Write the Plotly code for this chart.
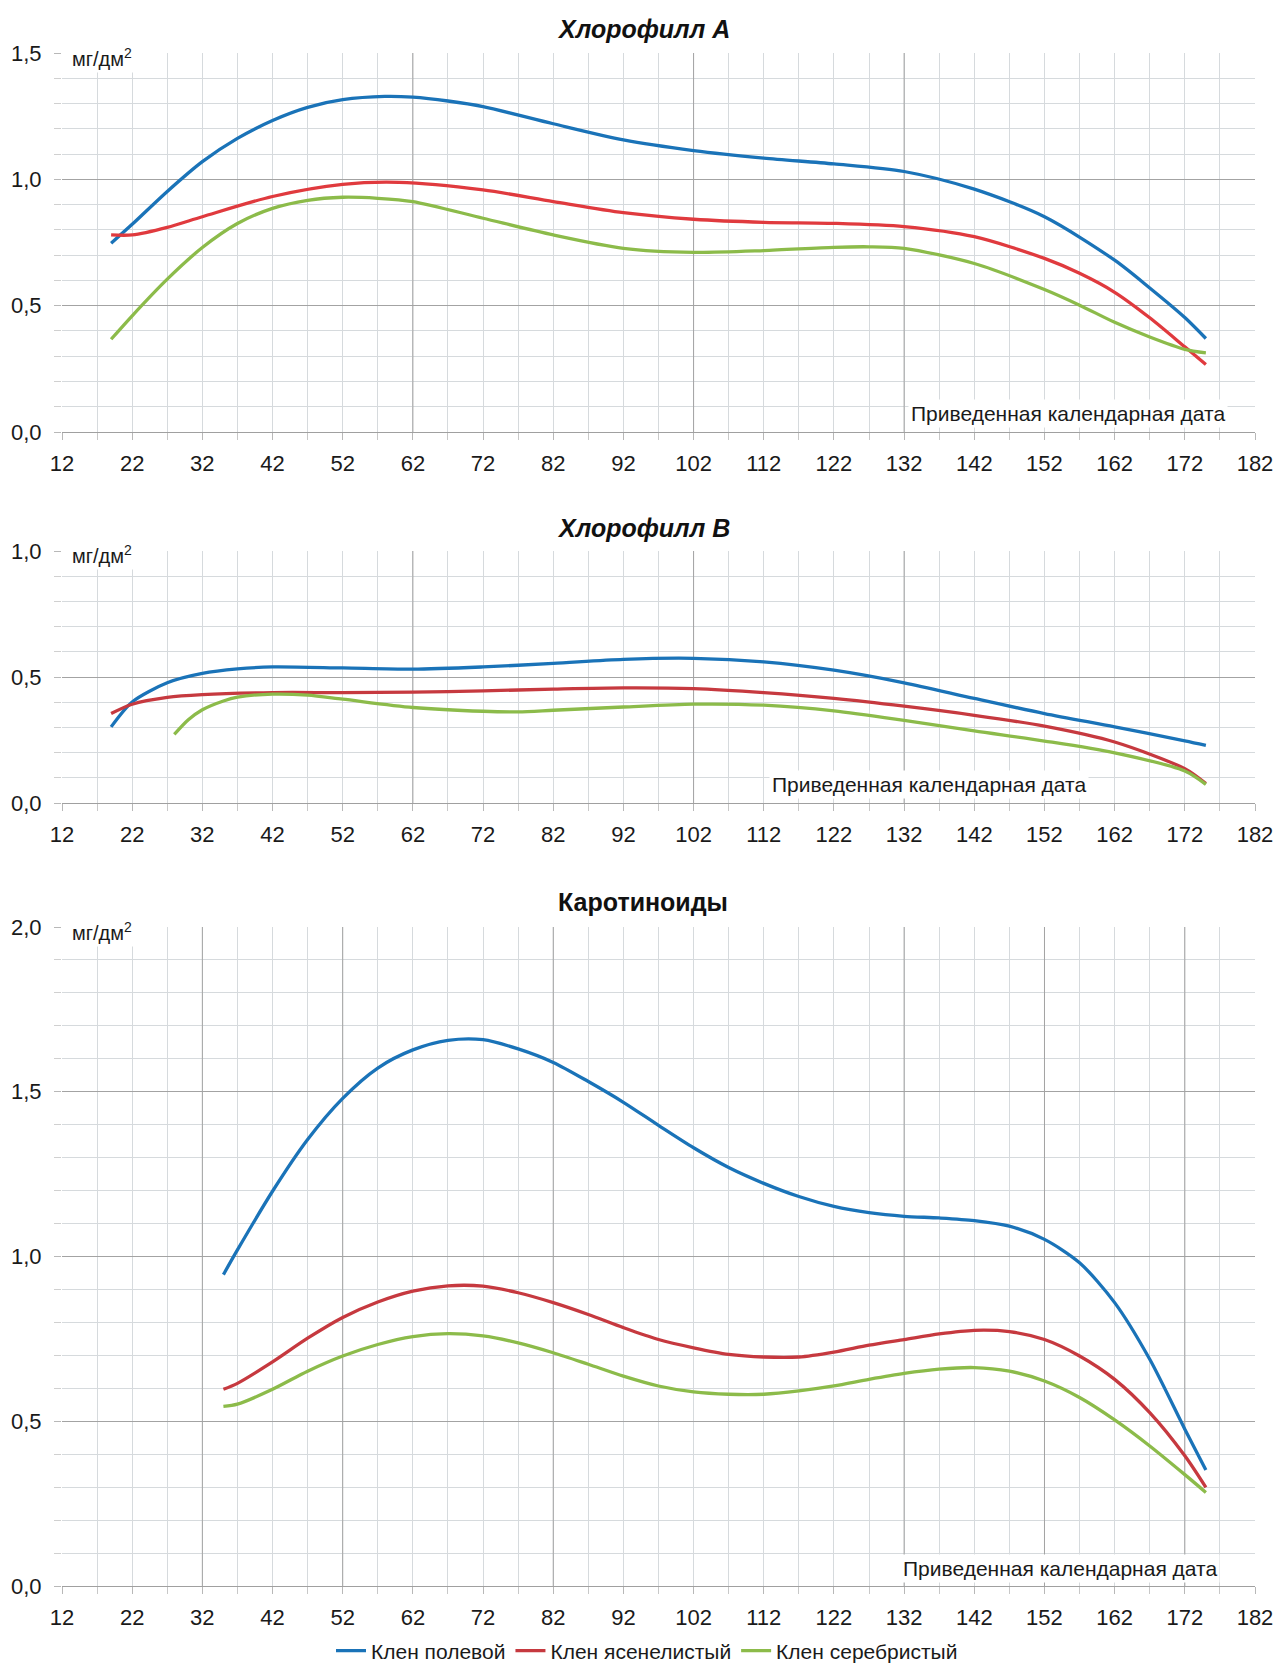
import plotly.graph_objects as go

# ---------------- DATA ----------------
series_names = ["Клен полевой", "Клен ясенелистый", "Клен серебристый"]
x_ticks = [12, 22, 32, 42, 52, 62, 72, 82, 92, 102, 112, 122, 132, 142, 152, 162, 172, 182]

# Хлорофилл А
a_pol_x = [19, 22, 27, 32, 37, 42, 47, 52, 58, 62, 67, 72, 82, 92, 102, 112, 122, 132, 142, 152, 162, 167, 172, 175]
a_pol_y = [0.747, 0.822, 0.952, 1.07, 1.162, 1.233, 1.285, 1.315, 1.328, 1.325, 1.31, 1.288, 1.22, 1.156,
           1.114, 1.084, 1.061, 1.031, 0.961, 0.852, 0.68, 0.57, 0.453, 0.37]
a_yas_x = [19, 22, 27, 32, 42, 52, 60, 72, 82, 92, 102, 112, 122, 132, 142, 152, 157, 162, 167, 172, 175]
a_yas_y = [0.78, 0.78, 0.81, 0.852, 0.932, 0.98, 0.988, 0.958, 0.912, 0.868, 0.842, 0.83, 0.826, 0.813,
           0.773, 0.687, 0.628, 0.553, 0.452, 0.337, 0.267]
a_ser_x = [19, 22, 27, 32, 37, 42, 47, 52, 57, 62, 72, 82, 92, 102, 112, 122, 127, 132, 142, 152, 157, 162,
           167, 172, 175]
a_ser_y = [0.367, 0.46, 0.605, 0.73, 0.825, 0.885, 0.917, 0.929, 0.925, 0.912, 0.846, 0.78, 0.727, 0.711,
           0.718, 0.731, 0.733, 0.727, 0.667, 0.564, 0.502, 0.434, 0.376, 0.327, 0.313]

# Хлорофилл В
b_pol_x = [19, 22, 27, 32, 37, 42, 52, 62, 72, 82, 92, 102, 112, 122, 132, 142, 152, 162, 172, 175]
b_pol_y = [0.302, 0.401, 0.477, 0.514, 0.532, 0.540, 0.536, 0.531, 0.540, 0.554, 0.570, 0.574, 0.560,
           0.527, 0.477, 0.415, 0.355, 0.302, 0.247, 0.229]
b_yas_x = [19, 22, 27, 32, 42, 52, 62, 72, 82, 92, 102, 112, 122, 132, 142, 152, 162, 172, 175]
b_yas_y = [0.355, 0.392, 0.419, 0.430, 0.438, 0.438, 0.440, 0.445, 0.452, 0.457, 0.454, 0.438, 0.415,
           0.384, 0.348, 0.305, 0.242, 0.136, 0.077]
b_ser_x = [28, 30, 32, 35, 37, 42, 47, 52, 62, 72, 77, 82, 92, 102, 112, 122, 132, 142, 152, 162, 172, 175]
b_ser_y = [0.272, 0.33, 0.37, 0.405, 0.42, 0.432, 0.428, 0.412, 0.379, 0.364, 0.362, 0.368, 0.381, 0.392,
           0.388, 0.366, 0.328, 0.286, 0.246, 0.199, 0.127, 0.074]

# Каротиноиды
c_x = [35, 37, 42, 47, 52, 57, 62, 67, 72, 77, 82, 87, 92, 97, 102, 107, 112, 117, 122, 127,
       132, 137, 142, 147, 152, 157, 162, 167, 172, 175]
c_pol_y = [0.945, 1.02, 1.198, 1.355, 1.48, 1.572, 1.627, 1.656, 1.658, 1.630, 1.589, 1.531, 1.468, 1.398,
           1.33, 1.27, 1.222, 1.182, 1.152, 1.133, 1.122, 1.117, 1.109, 1.092, 1.052, 0.981, 0.860,
           0.688, 0.476, 0.352]
c_yas_y = [0.597, 0.615, 0.68, 0.752, 0.815, 0.862, 0.895, 0.911, 0.910, 0.890, 0.860, 0.824, 0.784,
           0.748, 0.723, 0.703, 0.695, 0.695, 0.710, 0.731, 0.748, 0.765, 0.776, 0.772, 0.748, 0.698,
           0.627, 0.526, 0.395, 0.299]
c_ser_y = [0.545, 0.552, 0.597, 0.652, 0.698, 0.733, 0.757, 0.766, 0.759, 0.738, 0.708, 0.673, 0.637,
           0.607, 0.589, 0.582, 0.582, 0.592, 0.607, 0.627, 0.645, 0.658, 0.663, 0.652, 0.622, 0.572,
           0.504, 0.425, 0.338, 0.284]

titles = ["Хлорофилл А", "Хлорофилл В", "Каротиноиды"]
title_styles = ["italic", "italic", "normal"]
y_max = [1.5, 1.0, 2.0]
dark_x_ab = [62, 102, 132]
dark_x_c = [32, 52, 82, 132, 152, 172]

# ---------------- STYLE ----------------
W, H = 1274, 1668
FONT = "Liberation Sans Narrow, Arial Narrow, Liberation Sans, Arial, sans-serif"
BLUE = "#1a73b8"
RED1 = "#e03a3e"
RED2 = "#c6393f"
GREEN = "#8cbb4a"
MINOR = "#d6dadd"
MAJOR = "#a3a3a3"

L, R = 62, 19
plot_px = [(53, 432), (551, 803), (927, 1586)]
title_px = [29, 528, 902]
xlabel_px = [413, 785, 1568]

def dom(top, bot):
    return [1 - bot / H, 1 - top / H]

fig = go.Figure()

charts = [
    [(a_pol_x, a_pol_y, BLUE), (a_yas_x, a_yas_y, RED1), (a_ser_x, a_ser_y, GREEN)],
    [(b_pol_x, b_pol_y, BLUE), (b_yas_x, b_yas_y, RED2), (b_ser_x, b_ser_y, GREEN)],
    [(c_x, c_pol_y, BLUE), (c_x, c_yas_y, RED2), (c_x, c_ser_y, GREEN)],
]

for ci, chart in enumerate(charts):
    sfx = "" if ci == 0 else str(ci + 1)
    for si, (xs, ys, col) in enumerate(chart):
        fig.add_trace(go.Scatter(
            x=xs, y=ys, mode="lines",
            line=dict(color=col, width=3.3, shape="spline", smoothing=0.8),
            name=series_names[si], legendgroup=series_names[si],
            showlegend=(ci == 2),
            xaxis="x" + sfx, yaxis="y" + sfx, hoverinfo="skip",
        ))

layout = dict(
    width=W, height=H,
    margin=dict(l=L, r=R, t=0, b=0, autoexpand=False),
    paper_bgcolor="white", plot_bgcolor="white",
    separators=", ",
    font=dict(family=FONT, size=21, color="#1a1a1a"),
    showlegend=True,
    legend=dict(orientation="h", x=(647 - L) / (W - L - R), xanchor="center",
                y=1 - 1651 / H, yanchor="middle",
                xref="paper", yref="paper", font=dict(family=FONT, size=21, color="#1a1a1a"),
                itemwidth=30, bgcolor="rgba(0,0,0,0)"),
)

shapes = []
annotations = []
for ci in range(3):
    sfx = "" if ci == 0 else str(ci + 1)
    top, bot = plot_px[ci]
    d = dom(top, bot)
    xa = dict(
        domain=[0, 1], anchor="y" + sfx, range=[12, 182],
        tickmode="array", tickvals=x_ticks,
        showgrid=True, gridcolor=MINOR, gridwidth=1,
        ticks="outside", ticklen=7, tickcolor="#b8b8b8",
        minor=dict(tick0=12, dtick=5, showgrid=True, gridcolor=MINOR, ticks="outside",
                   ticklen=7, tickcolor="#c8c8c8"),
        showline=True, linecolor="#a0a0a0", linewidth=1, zeroline=False,
        tickfont=dict(family=FONT, size=22, color="#1a1a1a"),
        ticklabelstandoff=5, fixedrange=True,
    )
    ya = dict(
        domain=d, anchor="x" + sfx, range=[0, y_max[ci]],
        tick0=0, dtick=0.5, tickformat=".1f",
        showgrid=True, gridcolor=MAJOR, gridwidth=1,
        ticks="outside", ticklen=7, tickcolor="#b8b8b8",
        minor=dict(tick0=0, dtick=0.1, showgrid=True, gridcolor=MINOR, ticks="outside",
                   ticklen=7, tickcolor="#d0d0d0"),
        showline=False, zeroline=False,
        tickfont=dict(family=FONT, size=22, color="#1a1a1a"),
        ticklabelstandoff=8, fixedrange=True,
    )
    layout["xaxis" + sfx] = xa
    layout["yaxis" + sfx] = ya

    for xv in (dark_x_c if ci == 2 else dark_x_ab):
        shapes.append(dict(type="line", xref="x" + sfx, yref="y" + sfx,
                           x0=xv, x1=xv, y0=0, y1=y_max[ci], layer="between",
                           line=dict(color=MAJOR, width=1)))

    annotations.append(dict(
        text="<b>" + titles[ci] + "</b>", xref="paper", yref="paper",
        x=(643 - L) / (W - L - R), y=1 - title_px[ci] / H, xanchor="center", yanchor="middle",
        showarrow=False,
        font=dict(family=FONT, size=25, color="#111111", style=title_styles[ci]),
    ))
    annotations.append(dict(
        text="мг/дм<sup>2</sup>", xref="paper", yref="paper",
        x=0.006, y=1 - (top + 4) / H, xanchor="left", yanchor="middle",
        showarrow=False, bgcolor="white", borderpad=2,
        font=dict(family=FONT, size=20, color="#1a1a1a"),
    ))
    right_px = [1228, 1089, 1220][ci]
    annotations.append(dict(
        text="Приведенная календарная дата", xref="paper", yref="paper",
        x=(right_px - L) / (W - L - R), y=1 - xlabel_px[ci] / H, xanchor="right", yanchor="middle",
        showarrow=False, bgcolor="white", borderpad=2,
        font=dict(family=FONT, size=21, color="#1a1a1a"),
    ))

layout["shapes"] = shapes
layout["annotations"] = annotations
fig.update_layout(**layout)

fig.write_html("out.html", config={"displayModeBar": False},
               post_script="document.body.style.margin='0';")
